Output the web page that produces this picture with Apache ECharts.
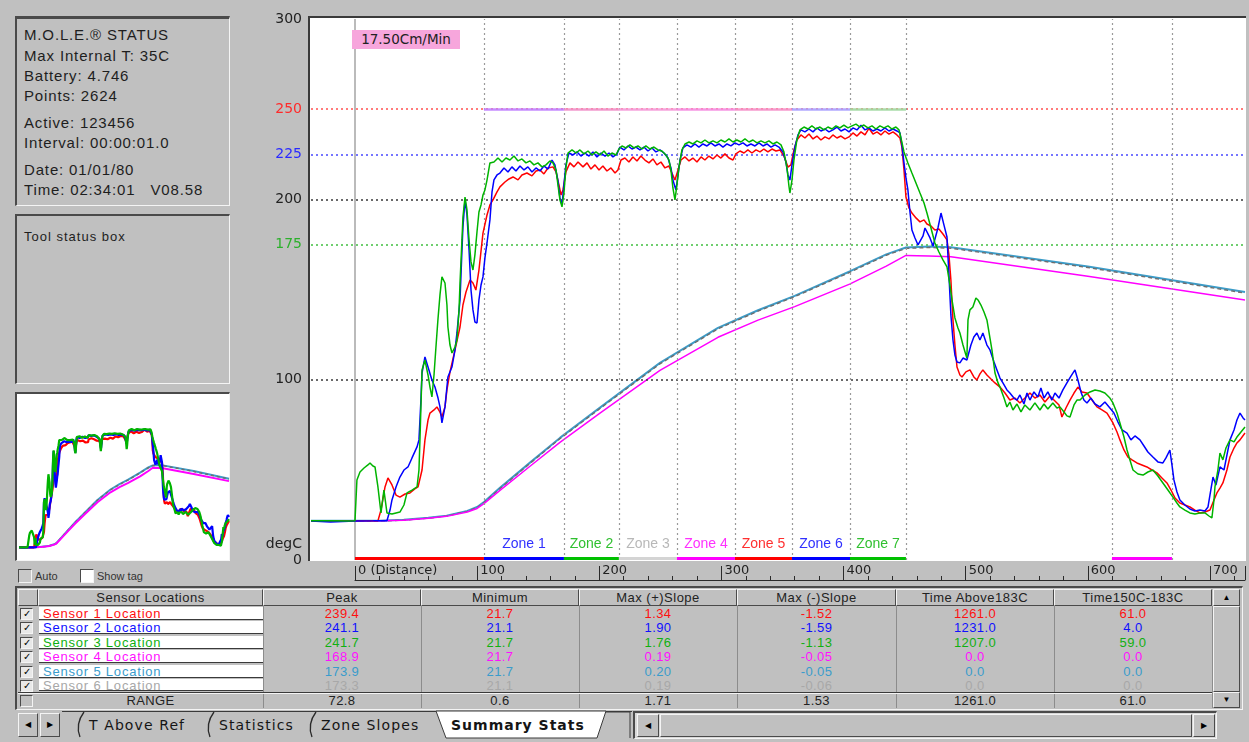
<!DOCTYPE html>
<html>
<head>
<meta charset="utf-8">
<script src="https://cdn.jsdelivr.net/npm/echarts@6/dist/echarts.min.js"></script>
<style>
html, body { margin: 0; padding: 0; background: #c0c0c0; }
#app { position: relative; width: 1249px; height: 742px; overflow: hidden; background: #c0c0c0;
  font-family: 'Liberation Sans', Arial, sans-serif; color: #1a1a1a; }
.abs { position: absolute; box-sizing: border-box; }
.sunken { border-top: 2px solid #4a4a4a; border-left: 2px solid #4a4a4a; border-right: 1px solid #f4f4f4; border-bottom: 1px solid #f4f4f4; }
.raised { border-top: 1px solid #f4f4f4; border-left: 1px solid #f4f4f4; border-right: 1px solid #4a4a4a; border-bottom: 1px solid #4a4a4a; background: #c0c0c0; }
.txt { white-space: pre; }
#chart { position: absolute; left: 0; top: 0; width: 1249px; height: 742px; z-index: 2; pointer-events: none; }
.front { z-index: 3; }
.cell { text-align: center; font-size: 13px; line-height: 14px; overflow: hidden; letter-spacing: 0.4px; }
.hdr { text-align: center; font-size: 13px; line-height: 15px; letter-spacing: 0.5px; color: #222; }
.tri { font-size: 8px; text-align: center; color: #000; }
</style>
</head>
<body>
<div id="app">
  <div id="chart"></div>
</div>
<script>
// ---------- values ----------
const X_MIN = -36, X_MAX = 728.7;           // distance range covered by the plot
const Y_MIN = 0, Y_MAX = 300;               // degC

const yTickLabels = { 0: '0', 100: '100', 175: '175', 200: '200', 225: '225', 250: '250', 300: '300' };
const refLevels = [250, 225, 200, 175, 100];

const zoneEdges = [0, 105.6, 171.1, 216.1, 263.6, 311.1, 357.8, 405.3, 451.1];
const zoneNames = ['', 'Zone 1', 'Zone 2', 'Zone 3', 'Zone 4', 'Zone 5', 'Zone 6', 'Zone 7'];
const zoneSetpoints = [null, 250, 250, 250, 250, 250, 250, 250];
const exitBand = [619.8, 668.9];
const beltSpeed = '17.50Cm/Min';

// sensor 1..3: on-board thermocouples, [distance, degC]
const sensor1 = [[-36,21.7],[-20,21.6],[0,21.7],[10,21.8],[18.8,21.7],[21.3,27.7],[24.6,40.5],[27,45.5],[30.3,41.6],[33.6,36],[36.8,34.9],[41,36.6],[45,37.2],[49,39.4],[51.6,40.5],[54.9,49.9],[57.3,66.6],[59.8,77.6],[61.4,81.5],[64.7,83.2],[67.1,84.9],[69.6,82],[71.2,79.3],[73.7,84.9],[75.3,94.3],[77.8,104.3],[81.9,116.5],[86,129.2],[88.4,141.4],[90.9,148.6],[94.2,155.3],[96.6,153.6],[99,149.7],[101.5,160.8],[104.8,181.3],[108.1,191.3],[110.5,196.9],[113,199.7],[116.3,204.1],[118.7,206.9],[122.8,209.6],[126.1,211.3],[129.4,212.4],[133.5,210.8],[136.7,213.5],[140.8,214.6],[144.9,213],[148.2,215.7],[151.5,216.3],[154.7,214.1],[158,217.4],[162.1,218],[164.6,215.2],[167,208],[168.7,202.4],[170.3,205.2],[172.7,215.2],[176,220.2],[179.3,218],[182.6,220.7],[186.7,218],[190,220.2],[193.2,216.8],[196.5,219.1],[199.8,216.3],[203,218.5],[206.3,215.7],[209.6,217.4],[212.9,214.6],[215.3,216.3],[217.8,221.8],[221,222.9],[224.3,220.7],[227.6,223.5],[230.9,221.3],[234.1,224],[237.4,221.8],[240.7,220.2],[244,222.4],[247.2,219.1],[250.5,220.7],[253.8,217.4],[257,218.5],[259.5,214.6],[262,210.7],[264.5,216.3],[266.9,221.8],[270.2,223.5],[273.5,221.3],[276.7,222.9],[280,220.7],[283.3,223.5],[286.5,221.8],[289.8,224],[293.1,222.4],[296.4,224.6],[299.6,222.9],[302.9,225.2],[306.2,222.9],[309.5,221.8],[311.9,225.2],[315.2,226.8],[318.5,225.7],[321.7,227.4],[325,225.7],[328.3,227.4],[331.6,226.3],[334.8,227.9],[338.1,226.3],[341.4,227.9],[344.7,226.8],[347.9,227.4],[351.2,224],[354.5,217.9],[356.9,219.1],[359.4,227.4],[361.8,232.9],[365.1,235.7],[368.4,234],[371.7,236.2],[375,233.5],[378.2,235.1],[381.5,232.9],[384.8,234.6],[388.1,233.5],[391.3,235.7],[394.6,234],[397.9,235.1],[401.2,233.5],[404.5,234.6],[407.7,236.8],[411,235.1],[414.3,237.4],[417.6,235.7],[420.8,239.4],[424.1,236.2],[427.4,237.4],[430.6,235.7],[433.9,237.9],[437.2,236.2],[440.5,237.4],[443.7,235.7],[446.2,234],[447.8,229],[449.5,216.3],[451.1,201.3],[453.6,195.2],[456,192.4],[459.3,189.7],[462.6,187.5],[465.9,188.6],[468.3,186.3],[471.6,185.2],[474.8,183],[478.1,183.6],[481.4,180.8],[484.7,177.5],[486.3,169.2],[487.9,155.3],[489.6,133.1],[491.2,119.2],[492.9,107],[495.3,102.6],[497,101.5],[500.2,104.3],[503.5,105.4],[506.7,101.5],[509.2,99.8],[511.7,103.2],[514.1,105.4],[517.4,102.6],[520.7,100.4],[524,98.2],[528.1,95.9],[532.2,92.6],[536.2,88.7],[540.3,89.8],[544.4,87.1],[548.5,89.8],[552.6,92.6],[556.7,89.8],[560.8,91.5],[564.9,87.6],[569,90.9],[573.1,88.2],[576.4,86],[578.8,79.3],[582.1,84.3],[585.4,88.7],[588.7,92.6],[591.9,95.9],[595.2,93.2],[599.3,92.6],[603.4,88.7],[607.5,84.9],[611.6,83.2],[615.7,81.5],[620.6,76],[623.9,71],[626.3,66.6],[629.6,61],[632.9,57.1],[636.2,55.5],[640.2,53.8],[644.3,52.7],[648.4,51.6],[652.5,49.9],[656.6,48.3],[660.7,45.5],[664.8,42.7],[668.1,38.8],[671.4,34.4],[675.4,31.6],[679.5,30.5],[683.6,29.4],[687.7,27.7],[691.8,26.1],[695.9,26.6],[700,27.7],[703.3,33.3],[705.7,37.2],[708.2,39.9],[710.6,42.7],[713.9,49.9],[716.4,57.1],[719.7,62.1],[722.1,64.9],[724.6,66.6],[728.7,70.4]];

const sensor2 = [[-36,21.6],[-20,21.1],[0,21.6],[15,21.7],[26.2,21.8],[28.7,27.7],[30.3,33.3],[33.6,40.5],[36.8,46],[40.1,49.9],[43.4,51.6],[46.7,56.6],[50.8,62.7],[52.4,66.6],[54,88.7],[54.9,103.7],[57.3,112.6],[59.8,107],[63,99.8],[65.5,95.9],[68,89.8],[69.6,84.9],[71.2,76],[73.7,84.9],[76.1,101.5],[79.4,107],[81.9,116.5],[83.5,125.9],[86,144.2],[87.6,171.9],[88.4,184.7],[90.1,199.7],[91.7,191.3],[93.4,171.9],[95,149.7],[96.6,138.7],[98.2,132],[99.9,131.4],[101.5,144.2],[103.2,152.5],[104.8,157],[106.4,167.5],[108.1,175.8],[110.5,188.6],[112.2,204.1],[113.8,210.8],[116.3,213.5],[118.7,214.6],[122,217.4],[125.3,215.2],[128.5,218],[131.8,215.7],[135.1,218.5],[138.4,216.3],[141.6,218],[144.9,215.2],[148.2,217.4],[151.5,215.7],[154.7,218.5],[158,216.8],[161.3,221.8],[163.7,219.1],[166.2,210.2],[167.8,200.8],[169.5,196.9],[171.1,208],[172.7,219.1],[175.2,225.7],[178.5,224.6],[181.8,226.3],[185,224],[188.3,225.7],[191.6,224],[194.9,226.3],[198.1,223.5],[201.4,225.7],[204.7,224],[208,225.7],[211.2,223.5],[214.5,225.2],[216.9,229],[220.2,227.4],[223.5,229.6],[226.8,227.9],[230.1,229],[233.3,227.4],[236.6,229],[239.9,226.8],[243.2,228.5],[246.4,226.3],[249.7,227.4],[253,225.7],[256.3,222.9],[258.7,217.4],[260.3,210.7],[262.8,205.2],[264.5,213.5],[266.1,221.8],[268.5,228.5],[271.8,230.2],[275.1,229],[278.4,230.7],[281.6,229],[284.9,230.7],[288.2,229.6],[291.4,231.3],[294.7,229.6],[298,230.7],[301.3,229],[304.6,230.7],[307.8,229.6],[311.1,231.3],[314.4,230.2],[317.7,231.3],[320.9,229.6],[324.2,230.7],[327.5,229.6],[330.8,231.3],[334,229.6],[337.3,230.7],[340.6,229],[343.9,230.2],[347.1,229],[350.4,226.3],[352.8,220.7],[354.5,213.5],[356.1,210.7],[357.8,219.1],[360.2,229],[362.7,235.7],[365.1,238.5],[368.4,237.4],[371.7,239],[375,237.4],[378.2,239.6],[381.5,237.9],[384.8,239],[388.1,237.4],[391.3,238.5],[394.6,240.1],[397.9,237.9],[401.2,239],[404.5,237.4],[407.7,239.6],[411,238.5],[414.3,241.1],[417.6,238.5],[420.8,239.6],[424.1,237.9],[427.4,239],[430.6,237.9],[433.9,239.6],[437.2,237.9],[440.5,239],[443.7,237.9],[446.2,236.8],[447.8,230.2],[449.5,220.2],[451.1,211.9],[452.7,205.2],[454.4,193],[456,183],[458.5,178.6],[461,174.7],[462.6,175.8],[465.1,179.7],[466.7,184.1],[468.3,184.7],[470.8,178.6],[473.3,174.1],[474.8,173.6],[477.3,184.1],[479.8,192.4],[482.2,185.8],[484.7,179.1],[486.3,158.1],[487.9,135.9],[489.6,122],[491.2,113.7],[492.9,109.8],[495.3,109.3],[497.8,112],[501,110.9],[504.3,119.2],[506.7,123.7],[509.2,125.9],[511.7,122],[514.1,125.9],[517.4,119.2],[519.9,116.5],[523.2,109.8],[525.6,105.4],[528.1,100.9],[530.5,98.2],[533.8,94.3],[536.2,92.6],[539.5,89.8],[542,88.7],[544.4,91.5],[547.7,86.5],[550.2,92.6],[552.6,88.7],[555.9,93.2],[559.1,90.4],[561.6,95.4],[564.1,89.8],[567.3,93.2],[570.6,88.7],[573.1,92.6],[576.4,89.8],[579.6,94.3],[582.9,98.2],[586.2,102],[589.5,105.4],[591.9,99.8],[594.4,93.2],[596.8,88.7],[599.3,87.1],[602.6,89.8],[605.9,86.5],[609.9,84.9],[614,87.6],[618.1,84.3],[621.4,81.5],[624.7,76.5],[628,72.1],[632.1,70.4],[635.3,66.6],[638.6,68.8],[642.7,66.6],[646,63.2],[649.2,59.9],[653.3,57.1],[657.4,54.4],[661.5,53.8],[664,56.6],[667.2,61],[668.9,52.7],[670.5,44.4],[673,37.7],[675.4,33.3],[679.5,30.5],[683.6,28.3],[687.7,27.2],[691.8,27.7],[695.9,27.2],[698.4,29.4],[700,36],[702.5,46],[704.9,41.6],[708.2,51.6],[711.5,49.9],[713.9,58.2],[716.4,66.6],[719.7,72.1],[722.1,77.6],[724.6,81.5],[727.1,78.8],[728.7,77.6]];

const sensor3 = [[-36,21.7],[-20,21.8],[-5,21.6],[0,21.7],[1.6,44.4],[4.1,48.8],[7.4,51],[10.6,52.7],[12.3,53.8],[14.7,52.1],[16.4,51.6],[18.8,40.5],[21.3,26.1],[23.7,38.8],[26.2,26.1],[30.3,25.5],[33.6,26.1],[36.8,26.6],[40.1,30.5],[42.6,37.2],[46.7,38.8],[50.8,40.5],[52.4,49.9],[53.2,66.6],[54.9,105.4],[57.3,110.9],[59.8,102.6],[61.4,95.9],[63,90.4],[64.7,102.6],[66.3,118.1],[67.9,133.1],[69.6,147],[71.2,157],[73.7,153.6],[75.3,141.4],[76.1,129.2],[77.8,119.2],[79.4,114.8],[81.9,118.1],[83.5,122],[85.2,138.7],[86,153.6],[87.6,177.5],[88.4,190.2],[90.1,201.3],[91.7,194.1],[93.4,177.5],[95,165.3],[96.6,160.8],[98.2,169.2],[99.9,181.9],[101.5,193],[103.2,196.9],[104.8,202.4],[106.4,205.2],[108.1,210.7],[110.5,220.2],[113.8,220.7],[117.1,222.9],[120.4,220.7],[123.6,222.9],[126.9,221.8],[130.2,224],[133.5,221.3],[136.7,222.4],[140,220.2],[143.3,221.3],[146.5,219.1],[149.8,220.2],[153.1,218],[156.4,219.1],[159.6,221.3],[162.1,220.2],[164.6,216.3],[166.2,208],[167.8,199.7],[169.5,195.8],[171.1,203.5],[172.7,217.4],[174.4,225.7],[177.7,227.4],[181,225.7],[184.2,227.4],[187.5,225.2],[190.8,226.8],[194,224.6],[197.3,226.3],[200.6,224.6],[203.9,226.8],[207.1,224],[210.4,225.7],[213.7,224.6],[216.1,227.9],[218.6,229.6],[221.9,228.5],[225.1,230.2],[228.4,228.5],[231.7,229.6],[235,227.9],[238.2,229.6],[241.5,227.9],[244.8,229],[248.1,227.4],[251.3,226.8],[254.6,224.6],[257.1,221.8],[258.7,216.3],[260.3,206.3],[262,199.7],[263.6,208],[265.3,218],[267.7,227.4],[270.2,230.7],[273.5,231.8],[276.7,230.7],[280,232.4],[283.3,231.3],[286.5,232.9],[289.8,231.3],[293.1,232.4],[296.4,231.3],[299.6,232.9],[302.9,231.8],[306.2,233.5],[309.5,231.8],[312.7,232.9],[316,231.8],[319.3,233.5],[322.6,231.8],[325.8,232.9],[329.1,231.3],[332.4,232.4],[335.7,231.3],[338.9,232.4],[342.2,230.7],[345.5,231.8],[348.8,230.2],[351.2,226.3],[353.7,217.4],[355.3,207.4],[356.1,203.5],[357.8,210.7],[359.4,221.8],[361.8,232.9],[364.3,238.5],[367.6,240.1],[370.9,239],[374.1,240.7],[377.4,239],[380.7,240.1],[384,238.5],[387.2,240.1],[390.5,239],[393.8,240.7],[397.1,239.6],[400.3,241.2],[403.6,239.6],[406.9,240.7],[410.2,241.7],[413.4,240.1],[416.7,241.2],[420,239.6],[423.3,240.7],[426.5,239],[429.8,240.7],[433.1,239.6],[436.4,240.7],[439.6,239],[442.9,240.1],[445.4,238.5],[447,234],[449.5,226.3],[452.7,220.2],[456,214.6],[459.3,209.1],[462.6,203.5],[465.9,198],[468.3,192.4],[471.6,184.1],[474.8,175.8],[478.1,170.8],[481.4,166.4],[484.7,162.5],[487.1,152.5],[488.8,144.2],[491.2,134.2],[493.7,128.7],[495.3,125.9],[497.8,119.2],[500.2,113.7],[501,112],[501.9,133.1],[503.5,138.7],[505.9,140.3],[508.4,145.3],[510.1,144.2],[512.5,141.4],[515,137.5],[517.4,133.1],[519.9,123.1],[521.5,116.5],[524,103.7],[526.5,98.2],[528.1,95.9],[531.4,89.8],[533.8,84.9],[536.2,87.6],[538.7,83.2],[542,86.5],[545.3,82.1],[548.5,86],[552.6,83.2],[556.7,87.1],[560.8,83.2],[564.1,86.5],[567.3,83.7],[571.4,87.1],[574.7,84.3],[577.2,84.9],[580.5,82.1],[582.9,79.9],[585.4,79.3],[588.7,86],[591.1,88.7],[593.6,88.7],[597.7,91.5],[601.8,93.2],[605.9,94.3],[609.9,93.7],[614,92.6],[618.1,89.8],[620.6,87.1],[623.9,81.5],[626.3,76],[629.6,68.2],[632.1,61],[634.5,55.5],[637,49.9],[641.1,47.7],[645.2,47.1],[649.2,48.8],[653.3,49.9],[657.4,46.6],[661.5,42.7],[665.6,38.8],[669.7,34.9],[673,31.6],[675.4,29.4],[679.5,27.7],[683.6,26.1],[687.7,25.5],[691.8,26.1],[695.9,26.1],[699.2,24.4],[701.6,23.3],[703.3,33.3],[704.1,40.5],[706.5,49.9],[708.2,59.3],[710.6,55.5],[713.1,62.1],[716.4,66.6],[719.7,65.5],[722.1,68.2],[725.4,71],[728.7,73.8]];

// sensor 4..6: product / board surface profile
const sensor4 = [[-36,21.7],[20,21.7],[40,22],[60,23.1],[75,24.2],[92,26.6],[100,28.6],[105.6,31.3],[118.7,38.6],[143.3,52],[167.8,65.2],[200.6,81.5],[249.7,105.2],[297.2,123.5],[330,133],[360,140.5],[405,153],[435,163],[451.1,168.9],[470,168.6],[487.9,168.2],[600,157.4],[728.7,144.2]];
const sensor5 = [[-36,21.7],[20,21.8],[40,22.3],[60,23.4],[75,24.6],[92,27.2],[100,29.4],[105.6,32.2],[118.7,40],[143.3,54],[167.8,67.7],[200.6,84.5],[249.7,109.3],[297.2,128.7],[330,138.5],[360,146.5],[405,160],[435,169.5],[451.1,173.3],[470,173.9],[487.9,173.4],[600,162.8],[728.7,148.6]];
const sensor6 = [[-36,21.6],[20,21.6],[40,22.1],[60,23.2],[75,24.4],[92,27],[100,29.1],[105.6,31.8],[118.7,39.6],[143.3,53.6],[167.8,67.3],[200.6,84],[249.7,108.8],[297.2,128.2],[330,138],[360,146],[405,159.5],[435,169],[451.1,172.8],[470,173.3],[487.9,172.9],[600,162.2],[728.7,148]];

// summary table
const tableHeaders = ['Sensor Locations', 'Peak', 'Minimum', 'Max (+)Slope', 'Max (-)Slope', 'Time Above183C', 'Time150C-183C'];
const sensorNames = ['Sensor 1 Location', 'Sensor 2 Location', 'Sensor 3 Location', 'Sensor 4 Location', 'Sensor 5 Location', 'Sensor 6 Location'];
const peakVals = ['239.4', '241.1', '241.7', '168.9', '173.9', '173.3'];
const minVals = ['21.7', '21.1', '21.7', '21.7', '21.7', '21.1'];
const posSlopeVals = ['1.34', '1.90', '1.76', '0.19', '0.20', '0.19'];
const negSlopeVals = ['-1.52', '-1.59', '-1.13', '-0.05', '-0.05', '-0.06'];
const timeAboveVals = ['1261.0', '1231.0', '1207.0', '0.0', '0.0', '0.0'];
const time150Vals = ['61.0', '4.0', '59.0', '0.0', '0.0', '0.0'];
const rangeVals = ['RANGE', '72.8', '0.6', '1.71', '1.53', '1261.0', '61.0'];

const statusLines = ['M.O.L.E.\u00ae STATUS', 'Max Internal T: 35C', 'Battery: 4.746', 'Points: 2624',
  'Active: 123456', 'Interval: 00:00:01.0', 'Date: 01/01/80', 'Time: 02:34:01   V08.58'];
const tabNames = ['T Above Ref', 'Statistics', 'Zone Slopes', 'Summary Stats'];

// ---------- styles ----------
const sensorColors = ['#ff1010', '#1010ff', '#10b010', '#ff10ff', '#3a9ccc', '#a8a8a8'];
const lineColors = ['#ff0000', '#0000ff', '#00b400', '#ff00ff', '#3c9cc8', '#6e6e6e'];
const zoneBarColors = ['#ff0000', '#0000ff', '#00c000', '#d4d4d4', '#ff00ff', '#ff0000', '#0000ff', '#00c000'];
const zoneLabelColors = ['', '#3030ff', '#30c030', '#b8b8b8', '#ff30ff', '#ff3030', '#3030ff', '#30c030'];
const setpointColors = ['', '#c080ff', '#f090c8', '#f49ad8', '#f48ce0', '#f490c8', '#a8a0ff', '#a0d8a0'];
const refColors = { 250: '#ff5050', 225: '#4848ff', 200: '#383838', 175: '#40c040', 100: '#383838' };
const yLabelStyle = { 175: 'g', 225: 'b', 250: 'r' };

// ---------- window chrome ----------
const app = document.getElementById('app');
function box(cls, l, t, w, h, css, html) {
  const d = document.createElement('div');
  d.className = 'abs ' + (cls || '');
  d.style.left = l + 'px'; d.style.top = t + 'px';
  d.style.width = w + 'px'; d.style.height = h + 'px';
  if (css) d.style.cssText += css;
  if (html != null) d.innerHTML = html;
  app.appendChild(d);
  return d;
}

// status panel
box('sunken', 15, 16, 215, 190, 'border-top-width:3px;');
const statusTops = [25, 46, 66, 86, 113, 133, 160, 180];
statusLines.forEach((s, i) => box('txt', 24, statusTops[i], 205, 20, 'font-size:15px;line-height:20px;letter-spacing:0.85px;color:#1e1e1e;', s));

// tool status panel
box('sunken', 15, 214, 215, 170);
box('txt', 24, 228, 200, 18, 'font-size:13px;line-height:18px;letter-spacing:1px;color:#1e1e1e;', 'Tool status box');

// preview panel
box('sunken', 15, 392, 215, 169, 'background:#ffffff;');
box('sunken', 18, 569, 14, 14, 'border-width:1px;background:#c8c8c8;');
box('txt', 35, 568, 40, 16, 'font-size:11px;line-height:16px;color:#333;', 'Auto');
box('sunken', 80, 569, 14, 14, 'border-width:1px;background:#ffffff;');
box('txt', 97, 568, 60, 16, 'font-size:11px;line-height:16px;color:#333;', 'Show tag');

// main plot frame
box('', 308, 16, 938, 545, 'background:#ffffff;border-top:2px solid #3a3a3a;border-left:2px solid #3a3a3a;');
box('txt front', 252, 534, 50, 18, 'font-family:"DejaVu Sans";font-size:14px;line-height:18px;text-align:right;color:#222;', 'degC');
box('txt front', 352, 30, 108, 19, 'background:#f7a6dc;font-family:"DejaVu Sans";font-size:13.5px;line-height:19px;text-align:center;color:#222;', beltSpeed);

// summary table
const colX = [18, 38, 263, 421, 579, 737, 896, 1054, 1212];
const rowTops = [607, 621, 636, 650, 665, 679];
const rowColumns = [peakVals, minVals, posSlopeVals, negSlopeVals, timeAboveVals, time150Vals];
box('sunken', 15, 586, 1228, 124, 'background:#c0c0c0;');
box('raised', colX[0], 589, colX[1] - colX[0], 17);
tableHeaders.forEach((h, i) => box('raised hdr', colX[i + 1], 589, colX[i + 2] - colX[i + 1], 17, '', h));
for (let c = 2; c < colX.length; c++) box('', colX[c], 606, 1, 102, 'background:#8c8c8c;');
sensorNames.forEach((name, r) => {
  const t = rowTops[r];
  const clipH = r === 5 ? 11 : 14;
  box('sunken', 20, t + 1, 13, 12, 'border-width:1px;background:#e8e8e8;font-size:10px;line-height:10px;text-align:center;color:#000;', '\u2713');
  box('txt', colX[1] + 1, t, colX[2] - colX[1] - 1, r === 5 ? 12 : 13, 'background:#fff;border-bottom:1px solid #3a3a3a;font-size:13px;line-height:13px;padding-left:4px;text-decoration:underline;overflow:hidden;letter-spacing:0.8px;color:' + sensorColors[r] + ';', name);
  rowColumns.forEach((vals, c) => box('cell', colX[c + 2], t, colX[c + 3] - colX[c + 2], clipH, 'color:' + sensorColors[r] + ';', vals[r]));
});
box('', colX[0], 692, colX[8] - colX[0], 2, 'border-top:1px solid #3a3a3a;border-bottom:1px solid #f4f4f4;');
box('sunken', 20, 695, 13, 12, 'border-width:1px;');
rangeVals.forEach((v, c) => box('cell', colX[c + 1], 694, colX[c + 2] - colX[c + 1], 14, 'color:#222;line-height:13px;', v));
// vertical scrollbar
box('raised tri', 1213, 589, 27, 17, 'line-height:15px;', '\u25b2');
box('raised', 1213, 606, 27, 86);
box('raised tri', 1213, 692, 27, 16, 'line-height:14px;', '\u25bc');

// sheet tabs
box('raised tri', 18, 713, 20, 24, 'line-height:22px;', '\u25c0');
box('raised tri', 40, 713, 20, 24, 'line-height:22px;', '\u25b6');
const tabTextX = [89, 219, 321, 451];
const tabEdgeX = [76, 206, 308, 438];
let svg = '<svg width="640" height="32" xmlns="http://www.w3.org/2000/svg">';
svg += '<line x1="62" y1="1.5" x2="632" y2="1.5" stroke="#3a3a3a" stroke-width="1"/>';
svg += '<polygon points="436,1 606,1 597,28 446,28" fill="#ffffff" stroke="#3a3a3a" stroke-width="1"/>';
[0, 1, 2].forEach(i => {
  const x = tabEdgeX[i];
  svg += '<path d="M' + (x + 8) + ',2 Q' + (x - 1) + ',14 ' + (x + 4) + ',27" fill="none" stroke="#2a2a2a" stroke-width="1.3"/>';
});
svg += '<line x1="606" y1="2" x2="630" y2="2" stroke="#3a3a3a"/><line x1="630" y1="2" x2="630" y2="28" stroke="#3a3a3a"/>';
svg += '</svg>';
box('', 0, 710, 640, 32, '', svg);
tabNames.forEach((name, i) => box('txt', tabTextX[i], 714, 170, 22,
  'font-family:"DejaVu Sans";font-size:14px;line-height:22px;letter-spacing:1.1px;color:#151515;' + (i === 3 ? 'font-weight:bold;letter-spacing:1px;' : ''), name));
// horizontal scrollbar
box('sunken', 633, 711, 584, 28, 'background:#d8d8d8;');
box('raised tri', 637, 714, 22, 23, 'line-height:21px;', '\u25c0');
box('raised', 660, 714, 532, 23);
box('raised tri', 1193, 714, 22, 23, 'line-height:21px;', '\u25b6');

// ---------- chart ----------
const chart = echarts.init(document.getElementById('chart'), null, { renderer: 'canvas' });

const refLines = refLevels.map(v => ({ yAxis: v, lineStyle: { color: refColors[v], type: [2, 3], width: 1.6 } }));
const zoneDividers = zoneEdges.slice(1).concat(exitBand).map(x => ({ xAxis: x, lineStyle: { color: '#9a9a9a', type: [2, 3], width: 1.2 } }));
const startLine = [{ xAxis: 0, lineStyle: { color: '#a4a4a4', type: 'solid', width: 1.5 } }];
const zoneBars = [];
const setpointSegs = [];
for (let i = 0; i < zoneEdges.length - 1; i++) {
  const a = zoneEdges[i], b = zoneEdges[i + 1];
  zoneBars.push([
    { coord: [a, 1], lineStyle: { color: zoneBarColors[i], width: 3, type: 'solid' },
      label: zoneNames[i] ? { show: true, position: 'insideMiddleTop', distance: 7, formatter: zoneNames[i],
        color: zoneLabelColors[i], fontSize: 14, fontFamily: 'Liberation Sans' } : { show: false } },
    { coord: [b, 1] }
  ]);
  if (zoneSetpoints[i] != null) {
    setpointSegs.push([
      { coord: [a, zoneSetpoints[i]], lineStyle: { color: setpointColors[i], width: 2.5, type: 'solid', opacity: 0.9 } },
      { coord: [b, zoneSetpoints[i]] }
    ]);
  }
}
zoneBars.push([{ coord: [exitBand[0], 1], lineStyle: { color: '#ff00ff', width: 3, type: 'solid' } }, { coord: [exitBand[1], 1] }]);

function curve(data, color, grid, width, z, extra) {
  return Object.assign({
    type: 'line', data, xAxisIndex: grid, yAxisIndex: grid, showSymbol: false, symbol: 'none',
    silent: true, z, clip: true, lineStyle: { color, width }, itemStyle: { color }
  }, extra || {});
}

const mainSeries = [
  curve(sensor5, lineColors[4], 0, 2, 2, {
    markLine: { silent: true, symbol: 'none', label: { show: false },
      data: refLines.concat(zoneDividers, startLine, setpointSegs, zoneBars) }
  }),
  curve(sensor6, lineColors[5], 0, 1.4, 3, { lineStyle: { color: lineColors[5], width: 1.4, type: [4, 3] } }),
  curve(sensor4, lineColors[3], 0, 1.5, 4),
  curve(sensor1, lineColors[0], 0, 1.5, 5),
  curve(sensor2, lineColors[1], 0, 1.5, 6),
  curve(sensor3, lineColors[2], 0, 1.5, 7)
];
const miniSeries = [
  curve(sensor5, lineColors[4], 2, 2, 2),
  curve(sensor6, lineColors[5], 2, 1.5, 3, { lineStyle: { color: lineColors[5], width: 1.5, type: [3, 3] } }),
  curve(sensor4, lineColors[3], 2, 2, 4),
  curve(sensor1, lineColors[0], 2, 2.2, 5),
  curve(sensor2, lineColors[1], 2, 2.2, 6),
  curve(sensor3, lineColors[2], 2, 2.2, 7)
];
// ruler carries no line of its own; an empty series keeps its axis alive
const rulerSeries = [{ type: 'line', data: [], xAxisIndex: 1, yAxisIndex: 1, silent: true }];

chart.setOption({
  animation: false,
  backgroundColor: 'transparent',
  grid: [
    { left: 311, top: 19, width: 934, height: 541 },
    { left: 355, top: 560, width: 890, height: 20 },
    { left: 19, top: 397, width: 210, height: 162 }
  ],
  xAxis: [
    { gridIndex: 0, type: 'value', min: X_MIN, max: X_MAX, show: false },
    { gridIndex: 1, type: 'value', min: 0, max: X_MAX, interval: 100, position: 'bottom',
      axisLine: { show: true, lineStyle: { color: '#2a2a2a', width: 1 } },
      axisTick: { show: true, inside: true, length: 14, lineStyle: { color: '#2a2a2a', width: 1 } },
      minorTick: { show: true, splitNumber: 5, length: 4, lineStyle: { color: '#2a2a2a', width: 1 } },
      splitLine: { show: false },
      axisLabel: { show: true, inside: true, align: 'left', margin: 3, padding: [0, 0, 0, 3], showMaxLabel: false,
        fontFamily: 'DejaVu Sans', fontSize: 13, color: '#222',
        formatter: v => (v === 0 ? '0 (Distance)' : String(v)) } },
    { gridIndex: 2, type: 'value', min: X_MIN, max: X_MAX, show: false }
  ],
  yAxis: [
    { gridIndex: 0, type: 'value', min: Y_MIN, max: Y_MAX, interval: 25,
      axisLine: { show: false }, axisTick: { show: false }, splitLine: { show: false },
      axisLabel: { show: true, interval: 0, margin: 9, fontFamily: 'DejaVu Sans', fontSize: 14, color: '#222',
        formatter: v => {
          const t = yTickLabels[v];
          if (t == null) return '';
          return yLabelStyle[v] ? '{' + yLabelStyle[v] + '|' + t + '}' : t;
        },
        rich: {
          r: { color: '#ff2a2a', fontFamily: 'DejaVu Sans', fontSize: 14 },
          b: { color: '#2a2aff', fontFamily: 'DejaVu Sans', fontSize: 14 },
          g: { color: '#2cb02c', fontFamily: 'DejaVu Sans', fontSize: 14 }
        } } },
    { gridIndex: 1, type: 'value', min: 0, max: 1, show: false },
    { gridIndex: 2, type: 'value', min: Y_MIN, max: Y_MAX, show: false }
  ],
  series: mainSeries.concat(rulerSeries, miniSeries)
});
</script>
</body>
</html>
